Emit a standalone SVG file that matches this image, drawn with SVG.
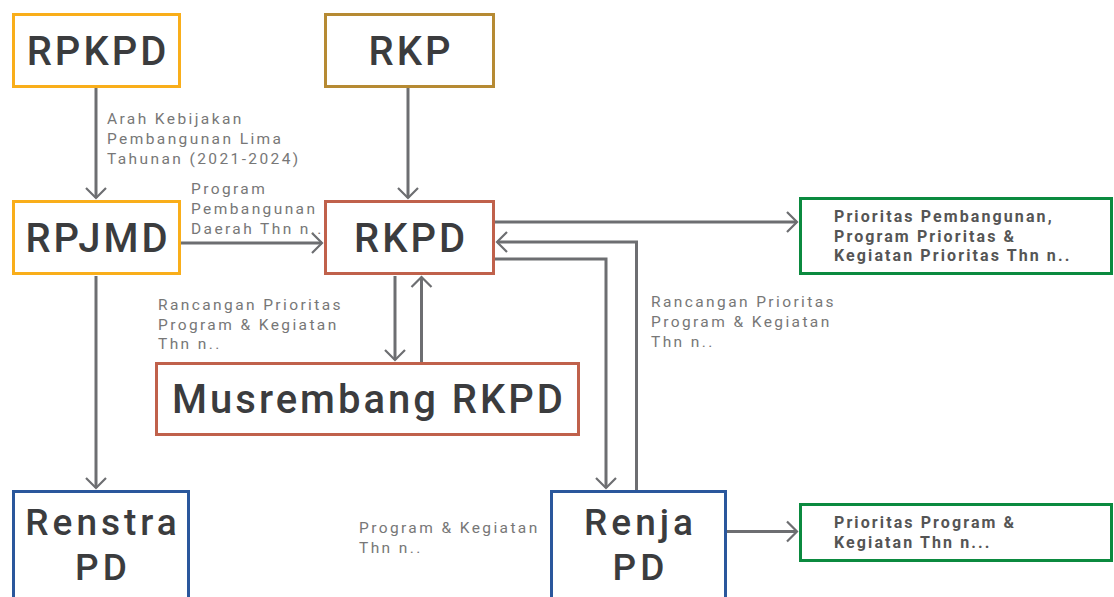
<svg xmlns="http://www.w3.org/2000/svg" width="1114" height="597" viewBox="0 0 1114 597">
<style>
.box{fill:#fff;stroke-width:3}
.or{stroke:#F9AE1A}.gd{stroke:#B68A33}.rd{stroke:#C0614B}.bl{stroke:#2A579C}.gr{stroke:#0B8A3F}
.nt{font-family:Roboto,"Liberation Sans",sans-serif;font-weight:500;font-size:40px;fill:#3b3c3e;letter-spacing:3px;text-anchor:middle}
.nt2{font-size:37px;letter-spacing:4px}
.lb{font-family:Roboto,"Liberation Sans",sans-serif;font-size:15.5px;fill:#777;letter-spacing:2.4px}
.gt{font-family:Roboto,"Liberation Sans",sans-serif;font-weight:700;font-size:16px;fill:#555;letter-spacing:2.1px}
.cn{fill:none;stroke:#6D6E71;stroke-width:3}
</style>
<defs>
<marker id="ah" markerUnits="userSpaceOnUse" viewBox="-12 -12 14 24" refX="0" refY="0" markerWidth="14" markerHeight="24" orient="auto">
<path d="M-10,-10 L0,0 L-10,10" fill="none" stroke="#6D6E71" stroke-width="2.2"/>
</marker>
</defs>
<rect width="1114" height="597" fill="#fff"/>
<g id="connectors">
<path class="cn" d="M96,88 V198" marker-end="url(#ah)"/>
<path class="cn" d="M408,88 V198" marker-end="url(#ah)"/>
<path class="cn" d="M181,243 H322" marker-end="url(#ah)"/>
<path class="cn" d="M96,276 V488" marker-end="url(#ah)"/>
<path class="cn" d="M395,276 V360" marker-end="url(#ah)"/>
<path class="cn" d="M421.5,362 V277" marker-end="url(#ah)"/>
<path class="cn" d="M495,222 H797" marker-end="url(#ah)"/>
<path class="cn" d="M636.5,490 V242 H497" marker-end="url(#ah)"/>
<path class="cn" d="M495,259 H606 V488" marker-end="url(#ah)"/>
<path class="cn" d="M727,531.5 H797" marker-end="url(#ah)"/>
</g>
<g id="label-arah">
<text class="lb" x="107" y="124">Arah Kebijakan</text>
<text class="lb" x="107" y="144">Pembangunan Lima</text>
<text class="lb" x="107" y="164">Tahunan (2021-2024)</text>
</g>
<g id="label-program">
<text class="lb" x="191" y="194">Program</text>
<text class="lb" x="191" y="214">Pembangunan</text>
<text class="lb" x="191" y="234">Daerah Thn n..</text>
</g>
<g id="label-rancangan-1">
<text class="lb" x="158" y="310">Rancangan Prioritas</text>
<text class="lb" x="158" y="329.5">Program &amp; Kegiatan</text>
<text class="lb" x="158" y="349">Thn n..</text>
</g>
<g id="label-rancangan-2">
<text class="lb" x="651" y="306.5">Rancangan Prioritas</text>
<text class="lb" x="651" y="326.5">Program &amp; Kegiatan</text>
<text class="lb" x="651" y="346.5">Thn n..</text>
</g>
<g id="label-progkeg">
<text class="lb" x="359" y="533">Program &amp; Kegiatan</text>
<text class="lb" x="359" y="553">Thn n..</text>
</g>
<g id="RPKPD">
<rect class="box or" x="13.5" y="14.5" width="166" height="72"/>
<text class="nt" x="98" y="65">RPKPD</text>
</g>
<g id="RKP">
<rect class="box gd" x="325.5" y="14.5" width="168" height="72"/>
<text class="nt" x="411" y="65">RKP</text>
</g>
<g id="RPJMD">
<rect class="box or" x="13.5" y="201.5" width="166" height="72"/>
<text class="nt" x="98" y="252">RPJMD</text>
</g>
<g id="RKPD">
<rect class="box rd" x="325.5" y="201.5" width="168" height="72"/>
<text class="nt" x="411" y="252">RKPD</text>
</g>
<g id="Musrembang">
<rect class="box rd" x="156.5" y="363.5" width="422" height="71"/>
<text class="nt" x="369" y="413">Musrembang RKPD</text>
</g>
<g id="Renstra">
<rect class="box bl" x="13.5" y="491.5" width="175" height="120"/>
<text class="nt nt2" x="103" y="535">Renstra</text>
<text class="nt nt2" x="103" y="580">PD</text>
</g>
<g id="Renja">
<rect class="box bl" x="551.5" y="491.5" width="174" height="120"/>
<text class="nt nt2" x="640.5" y="535">Renja</text>
<text class="nt nt2" x="640.5" y="580">PD</text>
</g>
<g id="Prioritas1">
<rect class="box gr" x="800.5" y="198.5" width="311" height="75"/>
<text class="gt" x="834" y="222">Prioritas Pembangunan,</text>
<text class="gt" x="834" y="241.5">Program Prioritas &amp;</text>
<text class="gt" x="834" y="261">Kegiatan Prioritas Thn n..</text>
</g>
<g id="Prioritas2">
<rect class="box gr" x="800.5" y="504.5" width="311" height="56"/>
<text class="gt" x="834" y="528">Prioritas Program &amp;</text>
<text class="gt" x="834" y="548">Kegiatan Thn n...</text>
</g>
</svg>
